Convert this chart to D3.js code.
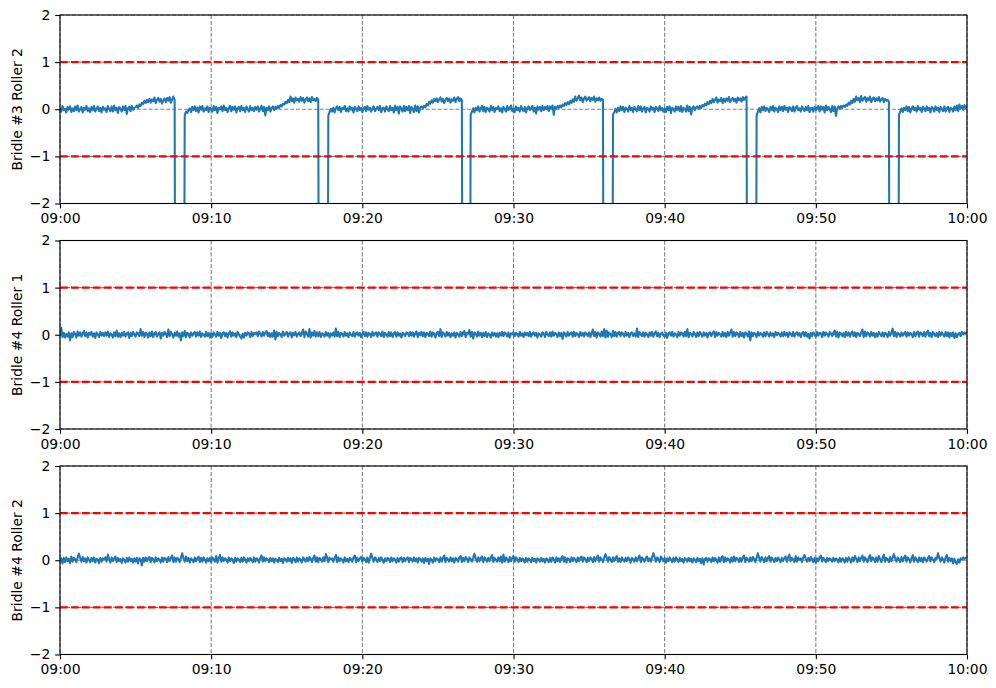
<!DOCTYPE html>
<html>
<head>
<meta charset="utf-8">
<title>Bridle rollers</title>
<script src="https://d3js.org/d3.v7.min.js"></script>
<style>
  body { margin: 0; background: #fff; }
  svg { font-family: "DejaVu Sans", sans-serif; }
  .tick text { font-size: 13.9px; fill: #000; }
  .tick line { stroke: #000; stroke-width: 1.1; }
  .ylabel { font-size: 13.9px; fill: #000; }
</style>
</head>
<body>
<div id="chart"></div>
<script>
// one sample every 5 s from 09:00:00 to 10:00:00, one row per minute
var startHour = 9, endHour = 10, stepSeconds = 5;

var panelLabels = ["Bridle #3 Roller 2", "Bridle #4 Roller 1", "Bridle #4 Roller 2"];
var limitLines = [1, -1];
var yTicks = [-2, -1, 0, 1, 2];

var bridle3Roller2 = [
  0.03,-0.05,0.07,-0.02,0.01,-0.07,0.05,-0.01,0.06,-0.06,0.02,-0.04,
  0.06,-0.02,0.08,-0.05,0.00,0.05,-0.07,0.03,-0.01,0.07,-0.04,0.02,
  -0.06,0.05,-0.02,0.07,-0.05,0.01,0.06,-0.04,0.03,-0.07,0.05,-0.01,
  0.02,-0.06,0.07,0.00,-0.04,0.06,-0.05,0.08,-0.02,0.03,-0.08,0.05,
  0.01,-0.05,0.06,-0.02,0.07,-0.10,0.02,0.05,-0.04,0.07,-0.01,0.03,
  0.04,0.08,0.03,0.10,0.07,0.14,0.11,0.18,0.13,0.20,0.15,0.22,
  0.14,0.21,0.17,0.25,0.13,0.20,0.24,0.16,0.22,0.12,0.19,0.23,
  0.15,0.24,0.18,0.26,0.14,0.21,0.27,0.19,-10,-10,-10,-10,
  -10,-10,-10,-0.13,-0.05,-0.08,-0.02,0.02,-0.06,0.05,-0.02,0.06,
  -0.04,0.03,-0.07,0.06,-0.01,0.07,-0.05,0.02,-0.02,0.06,-0.06,0.03,
  0.01,-0.05,0.07,-0.02,0.05,-0.08,0.03,0.00,0.06,-0.04,0.08,-0.02,
  0.03,-0.06,0.02,0.07,-0.04,0.05,-0.01,0.06,-0.07,0.02,0.05,-0.04,
  0.07,-0.02,0.03,-0.06,0.06,0.00,-0.05,0.07,-0.02,0.03,-0.04,0.05,
  -0.01,0.06,-0.05,0.02,0.07,-0.04,0.05,-0.13,0.03,-0.02,0.06,-0.05,
  0.03,0.06,-0.02,0.05,0.01,0.07,0.03,0.09,0.06,0.12,0.10,0.16,
  0.13,0.20,0.15,0.27,0.17,0.23,0.14,0.25,0.19,0.22,0.16,0.26,
  0.18,0.24,0.14,0.21,0.25,0.17,0.23,0.15,0.26,0.19,0.22,0.17,
  0.24,0.20,-10,-10,-10,-10,-10,-10,-10,-0.13,-0.06,0.01,
  -0.05,0.03,-0.07,0.02,0.06,-0.02,0.05,-0.06,0.03,0.00,0.07,-0.04,
  0.02,-0.05,0.06,-0.01,0.03,-0.07,0.05,0.01,-0.04,0.06,-0.02,0.03,
  -0.06,0.02,0.05,-0.04,0.07,-0.01,0.03,-0.05,0.02,0.06,-0.04,0.01,
  0.05,-0.02,0.07,-0.06,0.02,0.03,-0.05,0.06,0.00,-0.04,0.07,-0.02,
  0.03,-0.07,0.08,-0.02,0.05,-0.09,0.06,0.01,-0.05,0.07,-0.04,0.05,
  -0.02,0.07,-0.08,0.05,0.01,-0.06,0.08,-0.04,0.06,-0.07,0.03,0.06,
  0.02,0.07,0.04,0.11,0.08,0.16,0.12,0.19,0.14,0.22,0.17,0.23,
  0.15,0.21,0.25,0.16,0.22,0.13,0.20,0.24,0.17,0.23,0.14,0.21,
  0.18,0.25,0.15,0.22,0.26,0.17,0.23,0.20,-10,-10,-10,-10,
  -10,-10,-0.12,-0.05,0.02,-0.07,0.03,-0.02,0.06,-0.05,0.02,0.07,
  -0.04,0.05,-0.06,0.03,0.01,-0.05,0.07,-0.02,0.05,-0.06,0.03,0.00,
  0.06,-0.04,0.02,-0.07,0.05,0.01,-0.05,0.07,-0.02,0.03,0.08,-0.04,
  0.02,-0.06,0.06,-0.02,0.03,-0.05,0.07,0.00,-0.04,0.05,-0.07,0.03,
  0.06,-0.02,0.02,0.07,-0.05,0.03,-0.09,0.06,-0.01,0.05,-0.04,0.07,
  -0.02,0.05,0.01,0.07,-0.04,0.06,0.02,0.08,-0.12,0.05,0.02,0.07,
  0.03,0.08,0.04,0.10,0.07,0.13,0.09,0.15,0.11,0.18,0.13,0.21,
  0.16,0.27,0.18,0.24,0.29,0.19,0.25,0.15,0.23,0.27,0.18,0.22,
  0.26,0.17,0.24,0.20,0.27,0.16,0.23,0.19,0.25,0.18,0.22,0.20,
  -10,-10,-10,-10,-10,-10,-10,-0.12,-0.06,0.01,-0.07,0.03,
  -0.04,0.06,-0.02,0.05,-0.06,0.03,0.01,-0.05,0.07,-0.02,0.03,-0.06,
  0.05,0.00,-0.04,0.07,-0.02,0.06,-0.05,0.02,0.05,-0.07,0.03,0.01,
  -0.05,0.06,-0.01,0.03,-0.06,0.05,0.02,-0.04,0.07,-0.02,0.03,-0.05,
  0.02,-0.06,0.05,-0.02,0.06,-0.08,0.03,0.01,-0.05,0.06,-0.02,0.05,
  -0.04,0.07,-0.06,0.03,0.01,-0.05,0.08,-0.04,0.05,-0.11,0.03,0.06,
  -0.02,0.04,0.06,0.01,0.07,0.03,0.09,0.06,0.12,0.08,0.15,0.11,
  0.18,0.13,0.22,0.15,0.20,0.25,0.14,0.21,0.17,0.24,0.13,0.22,
  0.16,0.23,0.18,0.26,0.15,0.21,0.24,0.17,0.22,0.14,0.25,0.19,
  0.23,0.16,0.26,0.20,0.24,0.27,-10,-10,-10,-10,-10,-10,
  -10,-0.13,-0.05,0.02,-0.07,0.05,-0.02,0.06,-0.04,0.03,0.00,-0.06,
  0.05,-0.02,0.07,-0.05,0.03,0.01,-0.06,0.06,-0.02,0.05,-0.04,0.07,
  -0.01,0.03,-0.06,0.05,0.02,-0.04,0.06,-0.05,0.03,0.07,-0.02,0.02,
  -0.05,0.06,0.01,-0.04,0.05,-0.02,0.07,-0.06,0.02,0.03,-0.05,0.05,
  -0.02,0.03,0.07,-0.05,0.06,-0.01,0.05,-0.07,0.08,-0.02,0.05,0.01,
  -0.06,0.07,-0.04,0.06,-0.14,0.02,0.06,0.01,0.07,0.03,0.08,0.05,
  0.10,0.07,0.14,0.10,0.18,0.13,0.22,0.16,0.27,0.19,0.24,0.15,
  0.28,0.18,0.23,0.26,0.16,0.24,0.19,0.27,0.15,0.22,0.25,0.17,
  0.23,0.19,0.26,0.16,0.21,0.24,0.15,0.22,0.18,0.20,0.16,-10,
  -10,-10,-10,-10,-10,-10,-0.12,-0.05,0.02,-0.06,0.03,-0.02,
  0.06,-0.04,0.05,-0.07,0.02,0.06,-0.02,0.03,-0.05,0.07,-0.01,0.03,
  -0.06,0.05,0.01,-0.04,0.06,-0.02,0.03,-0.07,0.05,0.02,-0.05,0.06,
  -0.02,0.03,-0.06,0.05,0.00,-0.04,0.06,-0.05,0.02,0.05,-0.06,0.03,
  0.01,-0.05,0.06,-0.02,0.08,-0.04,0.10,0.02,0.07,-0.01,0.09,0.03,
  0.05
];

var bridle4Roller1 = [
  -0.03,0.15,-0.05,0.04,-0.06,0.02,-0.04,0.05,-0.12,0.03,-0.05,0.06,
  0.02,-0.06,0.07,-0.02,0.05,-0.04,0.03,0.08,-0.03,0.05,-0.06,0.04,
  0.00,0.06,-0.04,0.03,-0.07,0.05,0.01,-0.05,0.06,-0.02,0.04,-0.03,
  0.05,-0.02,0.07,-0.05,0.03,0.01,-0.06,0.05,-0.03,0.09,-0.04,0.03,
  -0.05,0.04,-0.02,0.06,-0.04,0.02,0.05,-0.07,0.04,-0.03,0.06,0.01,
  -0.04,0.05,0.03,-0.03,0.12,-0.02,0.06,-0.05,0.04,0.02,-0.06,0.05,
  -0.03,0.07,-0.05,0.03,0.06,-0.04,0.02,0.05,-0.08,0.04,-0.02,0.06,
  0.02,-0.05,0.11,-0.03,0.06,0.01,-0.06,0.04,-0.02,0.07,-0.04,0.03,
  -0.12,0.05,-0.03,0.08,-0.05,0.04,0.02,-0.06,0.05,-0.02,0.03,0.06,
  -0.04,0.05,-0.02,0.07,-0.05,0.03,0.00,-0.04,0.06,-0.03,0.04,-0.06,
  0.03,-0.05,0.05,0.01,-0.04,0.06,-0.02,0.04,-0.07,0.03,0.05,-0.03,
  0.04,-0.06,0.03,0.07,-0.04,0.05,-0.02,0.03,-0.05,0.06,0.01,-0.04,
  -0.08,0.02,-0.06,0.04,-0.02,0.05,0.03,-0.05,0.06,-0.03,0.04,0.02,
  0.05,-0.03,0.07,0.02,-0.04,0.06,-0.02,0.05,0.08,-0.03,0.04,-0.05,
  0.03,-0.04,0.09,-0.10,0.06,-0.03,0.04,0.01,-0.05,0.07,-0.02,0.03,
  0.06,-0.04,0.03,0.05,-0.06,0.04,-0.01,0.06,-0.04,0.02,0.05,-0.03,
  0.04,0.11,-0.05,0.07,0.02,-0.04,0.12,-0.06,0.05,-0.02,0.08,-0.04,
  0.05,-0.03,0.06,-0.05,0.03,0.01,-0.04,0.06,-0.02,0.04,-0.06,0.03,
  -0.02,0.05,-0.04,0.13,-0.03,0.06,-0.05,0.04,0.02,-0.04,0.06,-0.02,
  0.03,-0.05,0.05,0.00,-0.03,0.06,-0.04,0.03,0.05,-0.02,0.04,-0.05,
  0.02,0.06,-0.03,0.05,-0.04,0.04,0.02,-0.05,0.06,-0.02,0.03,0.05,
  -0.04,0.05,0.02,-0.03,0.07,-0.05,0.04,0.01,-0.04,0.06,-0.03,0.05,
  -0.05,0.03,0.06,-0.04,0.05,-0.02,0.03,-0.06,0.04,0.02,-0.03,0.05,
  0.04,-0.03,0.06,-0.02,0.05,-0.04,0.03,0.07,-0.05,0.04,-0.01,0.06,
  -0.03,0.05,-0.05,0.04,0.02,-0.03,0.07,-0.04,0.05,0.02,-0.06,0.04,
  0.06,-0.03,0.12,-0.05,0.05,0.02,-0.04,0.06,-0.02,0.04,-0.05,0.03,
  -0.02,0.05,-0.06,0.04,0.01,-0.04,0.06,-0.03,0.05,0.08,-0.05,0.04,
  0.03,0.10,-0.04,0.06,-0.08,0.05,0.02,-0.04,0.07,-0.02,0.04,-0.05,
  0.04,-0.03,0.06,-0.05,0.03,0.01,-0.06,0.05,-0.02,0.04,-0.04,0.03,
  -0.05,0.04,-0.02,0.06,-0.03,0.05,0.02,-0.04,0.05,-0.06,0.03,0.01,
  0.05,-0.03,0.04,0.02,-0.04,0.06,-0.02,0.03,-0.05,0.05,-0.01,0.04,
  -0.03,0.06,-0.04,0.03,0.05,-0.02,0.04,-0.06,0.03,0.01,-0.04,0.05,
  0.03,-0.05,0.06,0.01,-0.03,0.05,-0.04,0.07,-0.02,0.04,0.02,-0.05,
  0.05,-0.03,0.04,-0.09,0.05,0.02,-0.04,0.06,-0.02,0.03,0.05,-0.04,
  0.06,-0.03,0.04,0.01,-0.05,0.06,-0.02,0.04,-0.04,0.05,0.02,-0.03,
  0.05,-0.05,0.04,0.11,-0.03,0.06,-0.06,0.05,0.02,-0.04,0.07,-0.03,
  0.12,-0.06,0.09,-0.04,0.05,0.01,-0.05,0.08,-0.03,0.06,-0.04,0.04,
  0.06,-0.03,0.05,0.02,-0.04,0.06,-0.02,0.04,-0.05,0.03,0.05,-0.03,
  0.03,-0.04,0.13,-0.05,0.06,0.02,-0.03,0.05,-0.04,0.04,0.01,-0.05,
  0.05,-0.02,0.06,-0.04,0.03,0.07,-0.03,0.04,-0.05,0.02,0.05,-0.02,
  -0.04,0.04,-0.07,0.03,0.05,-0.02,0.06,-0.04,0.03,0.01,-0.05,0.06,
  -0.02,0.05,0.03,-0.04,0.06,-0.03,0.12,-0.05,0.04,0.02,-0.04,0.06,
  0.02,-0.05,0.05,-0.03,0.06,0.01,-0.04,0.05,-0.02,0.04,-0.06,0.03,
  0.05,-0.03,0.04,0.07,-0.05,0.06,-0.02,0.04,0.01,-0.04,0.06,-0.03,
  0.04,-0.05,0.06,-0.02,0.05,0.11,-0.04,0.06,-0.03,0.05,0.02,-0.05,
  0.06,-0.03,0.04,-0.06,0.05,0.02,-0.04,0.07,-0.12,0.05,-0.03,0.04,
  0.02,-0.05,0.06,-0.02,0.04,0.01,-0.04,0.05,-0.03,0.06,0.02,-0.04,
  0.05,-0.02,0.03,-0.05,0.06,-0.01,0.04,0.02,-0.04,0.05,-0.03,0.06,
  -0.02,0.04,-0.05,0.05,0.02,-0.03,0.06,-0.04,0.03,0.05,-0.02,0.04,
  -0.05,0.03,0.06,-0.03,0.05,-0.04,0.02,-0.08,0.04,-0.03,0.05,0.01,
  -0.04,0.06,-0.02,0.04,0.03,-0.05,0.06,-0.02,0.05,0.01,-0.04,0.06,
  0.03,-0.03,0.05,0.09,-0.04,0.06,-0.06,0.05,0.02,-0.03,0.04,-0.05,
  0.06,-0.02,0.05,-0.04,0.03,0.07,-0.03,0.05,-0.05,0.04,0.02,-0.03,
  0.05,0.11,-0.05,0.07,-0.03,0.05,0.02,-0.04,0.06,-0.02,0.04,-0.05,
  0.03,-0.04,0.06,0.01,-0.03,0.05,-0.04,0.04,0.02,-0.05,0.06,-0.02,
  0.04,0.13,-0.03,0.06,-0.05,0.04,0.02,-0.04,0.05,-0.02,0.03,0.06,
  -0.04,0.05,-0.02,0.04,0.01,-0.05,0.06,-0.03,0.04,0.07,-0.04,0.05,
  0.02,-0.03,0.06,-0.04,0.05,0.09,-0.03,0.04,-0.05,0.06,0.02,-0.03,
  0.04,-0.05,0.06,-0.02,0.05,0.01,-0.04,0.06,-0.03,0.05,-0.06,0.04,
  -0.03,0.05,-0.07,0.03,-0.05,0.02,0.04,-0.03,0.06,0.01,0.05,0.03,
  0.05
];

var bridle4Roller2 = [
  -0.03,0.04,-0.07,0.05,-0.04,0.06,-0.02,0.03,-0.06,0.08,-0.03,0.05,
  0.02,-0.04,0.06,0.14,0.05,-0.03,0.07,-0.02,0.04,-0.05,0.06,0.01,
  -0.04,0.05,-0.02,0.06,-0.05,0.03,0.01,-0.06,0.05,-0.03,0.04,0.02,
  0.06,-0.03,0.12,0.03,-0.05,0.06,-0.02,0.04,0.08,-0.04,0.05,-0.02,
  0.03,-0.06,0.04,0.01,-0.05,0.05,-0.03,0.06,-0.02,0.03,-0.05,0.04,
  -0.03,0.05,-0.07,0.04,0.02,-0.11,0.05,-0.03,0.06,-0.02,0.04,0.07,
  -0.04,0.05,0.02,-0.05,0.06,-0.02,0.04,0.01,-0.05,0.06,-0.03,0.05,
  0.03,-0.04,0.07,-0.02,0.05,0.10,-0.04,0.06,-0.03,0.05,0.02,-0.04,
  0.06,0.15,0.04,-0.03,0.08,-0.02,0.05,-0.05,0.04,0.01,-0.04,0.06,
  -0.02,0.04,0.08,-0.04,0.05,-0.03,0.06,0.02,-0.05,0.04,-0.02,0.05,
  -0.04,0.06,0.02,-0.03,0.09,-0.05,0.05,0.11,-0.03,0.06,-0.02,0.04,
  0.02,-0.05,0.06,-0.02,0.04,0.01,-0.06,0.05,-0.03,0.04,0.02,-0.04,
  0.05,-0.03,0.06,0.02,-0.05,0.04,-0.02,0.05,0.01,-0.04,0.06,-0.03,
  0.04,0.02,-0.05,0.05,0.10,-0.03,0.06,-0.02,0.04,0.01,-0.04,0.05,
  -0.02,0.04,-0.05,0.03,0.01,-0.04,0.05,-0.02,0.03,-0.06,0.04,0.02,
  -0.03,0.05,-0.02,0.04,-0.06,0.05,0.02,-0.04,0.06,-0.03,0.04,0.01,
  -0.05,0.06,0.02,-0.03,0.05,-0.02,0.07,0.03,-0.04,0.05,0.10,-0.03,
  0.06,-0.04,0.05,0.02,-0.03,0.06,-0.02,0.13,0.06,-0.04,0.05,0.02,
  0.04,-0.03,0.05,0.11,-0.04,0.06,-0.02,0.04,0.01,-0.05,0.06,-0.02,
  0.03,-0.04,0.05,0.02,-0.03,0.06,0.10,-0.04,0.05,-0.02,0.04,0.07,
  -0.03,0.05,0.02,-0.04,0.06,-0.05,0.04,0.14,0.05,-0.03,0.06,0.02,
  -0.04,0.05,-0.02,0.06,0.01,-0.05,0.04,-0.02,0.05,0.03,-0.04,0.06,
  -0.02,0.04,0.01,-0.05,0.05,-0.03,0.04,0.06,-0.04,0.05,-0.02,0.03,
  0.06,-0.04,0.05,0.02,-0.03,0.06,-0.02,0.04,-0.05,0.05,0.02,-0.03,
  0.04,-0.06,0.05,-0.02,0.03,-0.08,0.04,0.01,-0.05,0.06,-0.02,0.04,
  0.02,-0.04,0.06,-0.03,0.05,0.10,-0.04,0.05,0.02,-0.03,0.06,-0.02,
  0.04,-0.05,0.05,0.02,-0.03,0.06,0.09,-0.04,0.05,-0.02,0.07,0.03,
  -0.04,0.06,0.02,-0.03,0.05,0.14,0.04,-0.03,0.06,-0.02,0.05,0.08,
  -0.04,0.06,0.02,-0.03,0.05,-0.02,0.06,0.11,-0.04,0.05,0.01,-0.03,
  0.06,-0.02,0.08,-0.05,0.12,-0.03,0.06,0.02,-0.04,0.07,-0.02,0.05,
  0.09,-0.03,0.06,0.02,-0.04,0.05,-0.02,0.04,0.01,-0.05,0.05,-0.03,
  0.04,0.01,-0.04,0.05,-0.02,0.03,-0.05,0.04,0.02,-0.03,0.05,-0.02,
  0.03,-0.05,0.04,0.01,-0.04,0.05,-0.03,0.06,0.02,-0.05,0.06,-0.02,
  0.04,-0.04,0.05,0.09,-0.03,0.06,-0.05,0.04,0.02,-0.04,0.06,-0.02,
  0.05,0.01,-0.04,0.06,-0.02,0.05,0.08,-0.03,0.06,0.02,-0.04,0.05,
  -0.02,0.06,0.03,-0.04,0.07,-0.02,0.05,0.10,-0.03,0.06,0.02,-0.04,
  0.05,0.13,0.06,-0.03,0.07,0.02,-0.04,0.06,-0.02,0.05,0.09,-0.03,
  0.04,-0.04,0.06,0.01,-0.03,0.05,-0.02,0.06,0.03,-0.05,0.05,0.02,
  -0.03,0.06,-0.02,0.05,0.10,-0.04,0.06,0.02,-0.03,0.05,0.08,-0.02,
  0.04,-0.03,0.06,0.15,0.07,-0.03,0.06,0.02,-0.04,0.08,0.03,-0.02,
  0.05,-0.05,0.04,-0.02,0.06,0.01,-0.04,0.05,-0.03,0.06,0.02,-0.04,
  0.05,-0.02,0.03,-0.05,0.04,0.02,-0.03,0.05,-0.02,0.03,-0.05,0.04,
  0.01,-0.04,0.05,-0.02,0.03,-0.06,0.04,-0.09,0.03,0.05,-0.03,0.04,
  0.02,-0.04,0.06,-0.02,0.05,0.01,-0.05,0.06,-0.03,0.05,0.09,-0.04,
  0.06,-0.02,0.04,0.02,-0.05,0.06,-0.03,0.08,-0.02,0.05,0.03,-0.04,
  0.05,-0.03,0.06,0.10,-0.04,0.05,0.02,-0.03,0.06,-0.02,0.07,0.03,
  -0.04,0.06,0.15,0.05,-0.03,0.07,0.02,-0.04,0.06,-0.02,0.05,0.09,
  -0.03,0.06,0.02,-0.04,0.05,-0.02,0.06,0.01,-0.04,0.05,-0.02,0.04,
  0.08,-0.03,0.06,0.12,-0.02,0.05,0.02,-0.04,0.09,-0.03,0.06,0.01,
  0.04,-0.04,0.06,0.11,0.03,-0.03,0.05,-0.02,0.07,0.02,-0.04,0.05,
  -0.05,0.04,-0.02,0.06,0.10,-0.03,0.05,0.01,-0.04,0.05,-0.02,0.04,
  0.02,-0.03,0.05,-0.02,0.04,0.01,-0.04,0.05,-0.03,0.04,0.02,-0.05,
  0.05,-0.03,0.06,0.02,-0.05,0.06,-0.02,0.09,0.03,-0.04,0.06,-0.02,
  0.05,0.10,-0.03,0.06,0.02,-0.04,0.05,0.11,-0.02,0.06,0.03,-0.04,
  0.06,-0.03,0.09,0.02,-0.04,0.06,0.12,-0.03,0.05,0.02,-0.04,0.07,
  -0.02,0.05,0.13,0.04,-0.03,0.06,0.02,-0.04,0.07,-0.02,0.05,0.10,
  -0.03,0.06,0.02,-0.05,0.05,0.11,-0.03,0.06,0.01,-0.04,0.06,-0.02,
  0.05,-0.04,0.06,0.02,-0.03,0.05,0.09,-0.02,0.06,0.01,-0.04,0.05,
  0.03,0.15,0.05,-0.03,0.06,0.02,-0.05,0.06,0.11,-0.03,0.05,-0.02,
  0.04,-0.07,0.03,-0.04,-0.08,0.02,-0.05,0.04,0.01,0.06,0.03,0.05,
  0.06
];

var allSeries = [bridle3Roller2, bridle4Roller1, bridle4Roller2];

var width = 996, height = 688;
var left = 60, right = 967;
var firstTop = 15, panelStep = 225.5, panelHeight = 188.5;
var tickLen = 4.86;

var t0 = new Date(2024, 0, 1, startHour, 0, 0);
var t1 = new Date(2024, 0, 1, endHour, 0, 0);

var svg = d3.select("#chart").append("svg")
    .attr("width", width)
    .attr("height", height);

var x = d3.scaleTime().domain([t0, t1]).range([left, right]);
var xTicks = d3.timeMinute.every(10).range(t0, d3.timeSecond.offset(t1, 1));

allSeries.forEach(function(values, i) {
  var top = firstTop + i * panelStep;
  var y = d3.scaleLinear().domain([-2, 2]).range([top + panelHeight, top]);

  var data = values.map(function(v, k) {
    return { t: d3.timeSecond.offset(t0, k * stepSeconds), v: v };
  });

  var g = svg.append("g");

  // clip to the axes box
  g.append("clipPath").attr("id", "clip" + i)
    .append("rect")
    .attr("x", left).attr("y", top)
    .attr("width", right - left).attr("height", panelHeight);

  // gray dashed grid (0.8 pt)
  g.selectAll(".vgrid").data(xTicks).enter().append("line")
    .attr("x1", function(d) { return x(d); })
    .attr("x2", function(d) { return x(d); })
    .attr("y1", top).attr("y2", top + panelHeight)
    .attr("stroke", "#808080").attr("stroke-width", 1.1)
    .attr("stroke-dasharray", "4.1,1.8");
  g.selectAll(".hgrid").data(yTicks).enter().append("line")
    .attr("x1", left).attr("x2", right)
    .attr("y1", function(d) { return y(d); })
    .attr("y2", function(d) { return y(d); })
    .attr("stroke", "#808080").attr("stroke-width", 1.1)
    .attr("stroke-dasharray", "4.1,1.8");

  var line = d3.line()
      .x(function(d) { return x(d.t); })
      .y(function(d) { return y(d.v); });

  g.append("path")
    .datum(data)
    .attr("clip-path", "url(#clip" + i + ")")
    .attr("fill", "none")
    .attr("stroke", "#1f77b4")
    .attr("stroke-width", 2.08)
    .attr("stroke-linejoin", "round")
    .attr("d", line);

  // red limit lines (1.5 pt)
  g.selectAll(".limit").data(limitLines).enter().append("line")
    .attr("x1", left).attr("x2", right)
    .attr("y1", function(d) { return y(d); })
    .attr("y2", function(d) { return y(d); })
    .attr("stroke", "#ff0000").attr("stroke-width", 2.08)
    .attr("stroke-dasharray", "7.7,3.3");

  // axes
  g.append("g")
    .attr("transform", "translate(0," + (top + panelHeight) + ")")
    .call(d3.axisBottom(x).tickValues(xTicks)
      .tickFormat(d3.timeFormat("%H:%M"))
      .tickSize(tickLen).tickPadding(tickLen))
    .call(function(a) {
      a.select(".domain").remove();
      a.attr("font-family", null).attr("font-size", null);
    });

  g.append("g")
    .attr("transform", "translate(" + left + ",0)")
    .call(d3.axisLeft(y).tickValues(yTicks)
      .tickFormat(function(d) { return d < 0 ? "\u2212" + Math.abs(d) : d; })
      .tickSize(tickLen).tickPadding(tickLen))
    .call(function(a) {
      a.select(".domain").remove();
      a.attr("font-family", null).attr("font-size", null);
    });

  // spines
  g.append("rect")
    .attr("x", left).attr("y", top)
    .attr("width", right - left).attr("height", panelHeight)
    .attr("fill", "none").attr("stroke", "#000").attr("stroke-width", 1.1);

  g.append("text")
    .attr("class", "ylabel")
    .attr("transform", "translate(17," + (top + panelHeight / 2) + ") rotate(-90)")
    .attr("text-anchor", "middle")
    .attr("dy", "0.35em")
    .text(panelLabels[i]);
});
</script>
</body>
</html>
